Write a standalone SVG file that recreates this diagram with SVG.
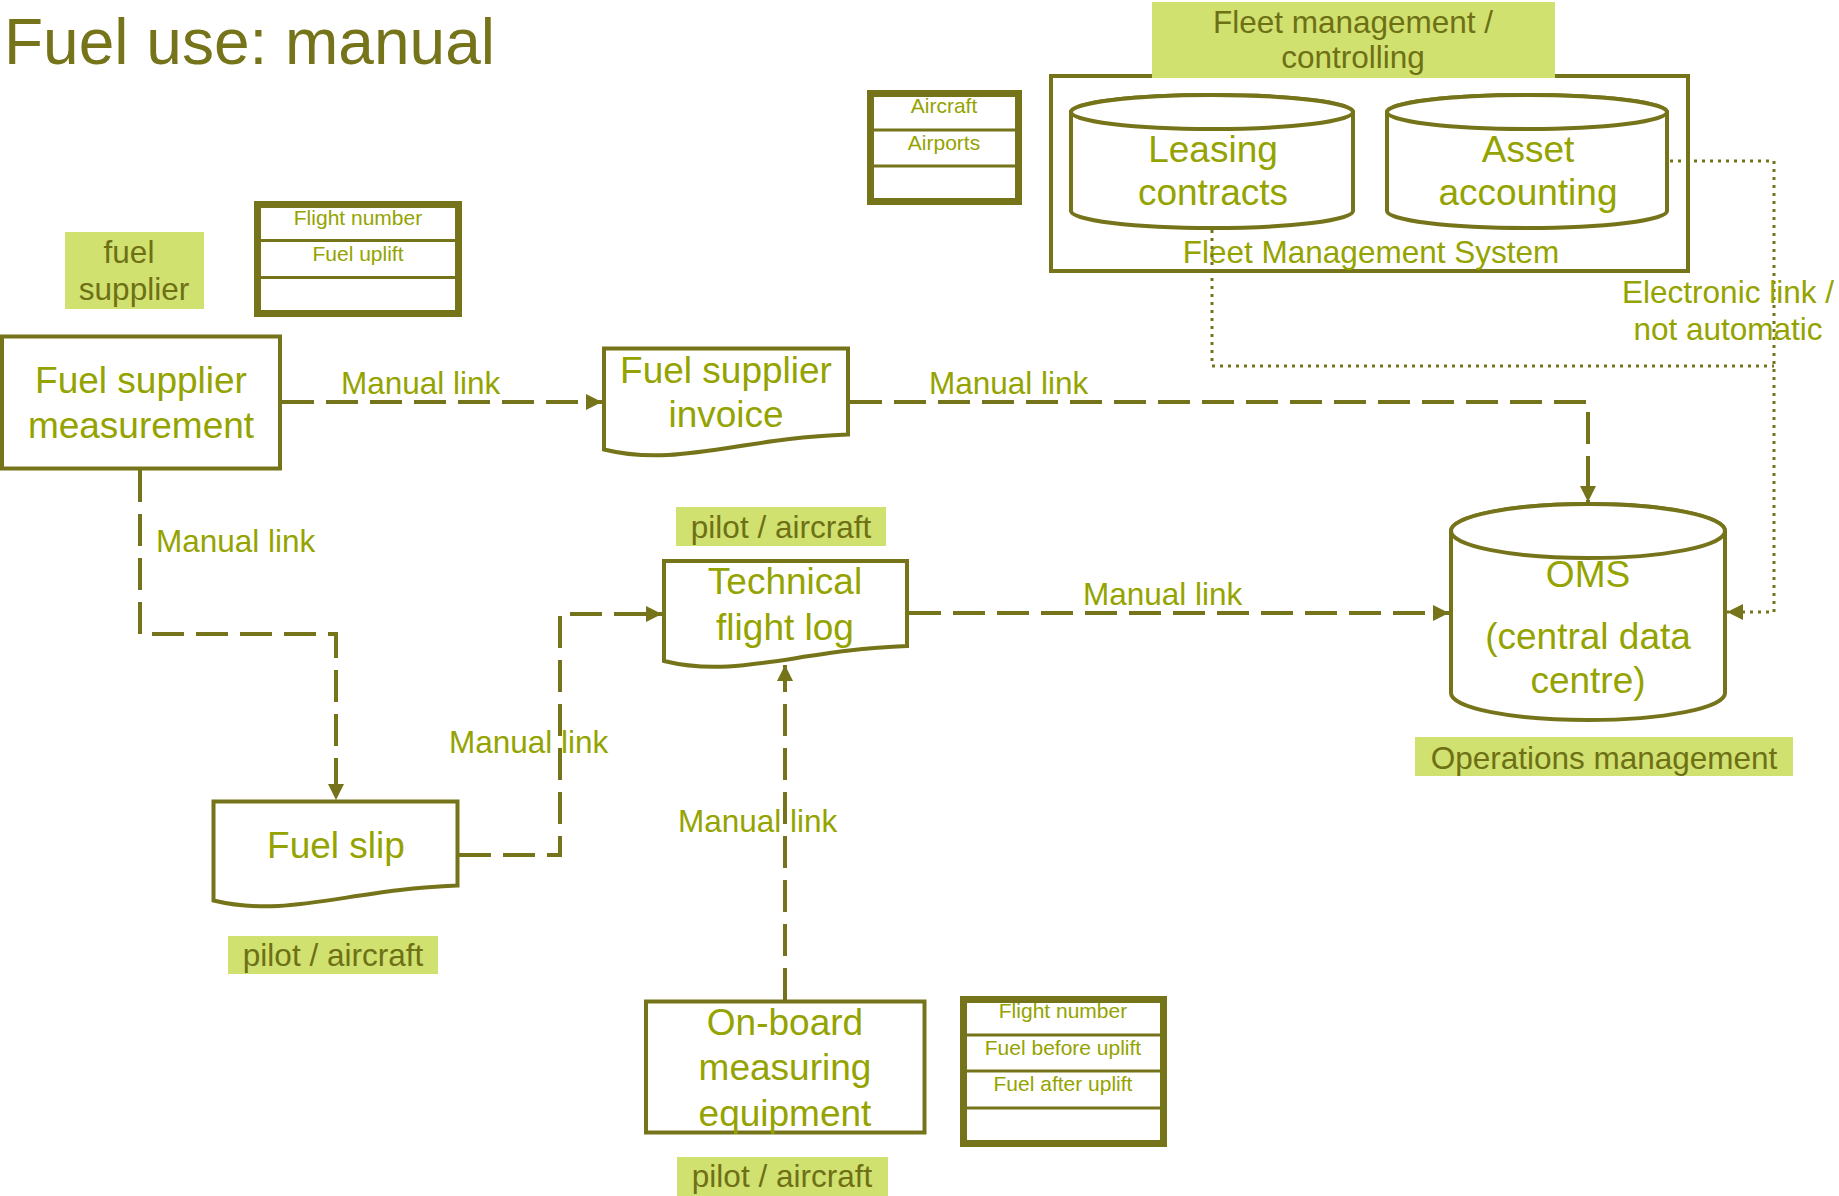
<svg xmlns="http://www.w3.org/2000/svg" width="1839" height="1196" viewBox="0 0 1839 1196">
<style>
text{font-family:"Liberation Sans",Arial,sans-serif}
.node{fill:#fff;stroke:#76741A;stroke-width:4}
.big{font-size:37px;fill:#94A300;text-anchor:middle}
.lbl{fill:#D1E170}
.lt{font-size:31.5px;fill:#6E7015;text-anchor:middle}
.ct{font-size:31.5px;fill:#94A300}
.tbl{fill:#fff;stroke:#76741A;stroke-width:7}
.div{stroke:#76741A;stroke-width:3}
.tt{font-size:21px;fill:#94A300;text-anchor:middle}
.dash{fill:none;stroke:#76741A;stroke-width:4;stroke-dasharray:32 12}
.dot{fill:none;stroke:#76741A;stroke-width:3;stroke-dasharray:3 5}
</style>
<defs>
<marker id="arr" markerUnits="userSpaceOnUse" markerWidth="16" markerHeight="16" refX="16" refY="8" orient="auto"><path d="M0,0 L16,8 L0,16 z" fill="#76741A"/></marker>
</defs>
<rect width="1839" height="1196" fill="#fff"/>
<text x="4" y="64" font-size="64" fill="#76741A">Fuel use: manual</text>

<g id="fuel-supplier-label">
<rect class="lbl" x="65" y="232" width="139" height="77"/>
<text class="lt" x="129" y="263">fuel</text>
<text class="lt" x="134" y="300">supplier</text>
</g>

<g id="table-fuel-supplier">
<rect class="tbl" x="257.5" y="204.5" width="201" height="109"/>
<line class="div" x1="261" y1="240.5" x2="455" y2="240.5"/>
<line class="div" x1="261" y1="277.5" x2="455" y2="277.5"/>
<text class="tt" x="358" y="225">Flight number</text>
<text class="tt" x="358" y="261">Fuel uplift</text>
</g>

<g id="table-aircraft">
<rect class="tbl" x="870.5" y="93.5" width="148" height="108"/>
<line class="div" x1="874" y1="130" x2="1015" y2="130"/>
<line class="div" x1="874" y1="166" x2="1015" y2="166"/>
<text class="tt" x="944" y="113">Aircraft</text>
<text class="tt" x="944" y="150">Airports</text>
</g>

<g id="fleet-management-system">
<rect class="node" x="1051" y="76" width="637" height="195"/>
<text class="ct" x="1371" y="263" text-anchor="middle">Fleet Management System</text>
</g>

<g id="fleet-management-label">
<rect class="lbl" x="1152" y="2" width="403" height="76"/>
<text class="lt" x="1353" y="33">Fleet management /</text>
<text class="lt" x="1353" y="68">controlling</text>
</g>

<g id="leasing-contracts">
<path class="node" d="M1071,112 V211 A141,17 0 0 0 1353,211 V112 A141,17 0 0 0 1071,112 Z"/>
<ellipse class="node" cx="1212" cy="112" rx="141" ry="17"/>
<text class="big" x="1213" y="162">Leasing</text>
<text class="big" x="1213" y="205">contracts</text>
</g>

<g id="asset-accounting">
<path class="node" d="M1387,112 V211 A140,17 0 0 0 1667,211 V112 A140,17 0 0 0 1387,112 Z"/>
<ellipse class="node" cx="1527" cy="112" rx="140" ry="17"/>
<text class="big" x="1528" y="162">Asset</text>
<text class="big" x="1528" y="205">accounting</text>
</g>

<g id="fuel-supplier-measurement">
<rect class="node" x="2" y="336.5" width="278" height="132"/>
<text class="big" x="141" y="393">Fuel supplier</text>
<text class="big" x="141" y="438">measurement</text>
</g>

<g id="fuel-supplier-invoice">
<path class="node" d="M604,348.5 H848 V434.5 C738,438.5 677,467.5 604,449.5 Z"/>
<text class="big" x="726" y="383">Fuel supplier</text>
<text class="big" x="726" y="427">invoice</text>
</g>

<g id="pilot-label-techlog">
<rect class="lbl" x="676" y="507" width="210" height="39"/>
<text class="lt" x="781" y="538">pilot / aircraft</text>
</g>

<g id="technical-flight-log">
<path class="node" d="M664,561 H907 V646 C798,650 737,679 664,661 Z"/>
<text class="big" x="785" y="594">Technical</text>
<text class="big" x="785" y="640">flight log</text>
</g>

<g id="oms">
<path class="node" d="M1451,531 V693 A137,27 0 0 0 1725,693 V531 A137,27 0 0 0 1451,531 Z"/>
<ellipse class="node" cx="1588" cy="531" rx="137" ry="27"/>
<text class="big" x="1588" y="587">OMS</text>
<text class="big" x="1588" y="649">(central data</text>
<text class="big" x="1588" y="693">centre)</text>
</g>

<g id="operations-management-label">
<rect class="lbl" x="1415" y="737" width="378" height="39"/>
<text class="lt" x="1604" y="769">Operations management</text>
</g>

<g id="fuel-slip">
<path class="node" d="M213.5,801.5 H457.5 V885.5 C349,889.5 287,918.5 213.5,900.5 Z"/>
<text class="big" x="336" y="858">Fuel slip</text>
</g>

<g id="pilot-label-fuelslip">
<rect class="lbl" x="228" y="936" width="210" height="38"/>
<text class="lt" x="333" y="966">pilot / aircraft</text>
</g>

<g id="on-board-measuring-equipment">
<rect class="node" x="646" y="1001.5" width="278.5" height="131"/>
<text class="big" x="785" y="1035">On-board</text>
<text class="big" x="785" y="1080">measuring</text>
<text class="big" x="785" y="1126">equipment</text>
</g>

<g id="pilot-label-onboard">
<rect class="lbl" x="677" y="1157" width="211" height="39"/>
<text class="lt" x="782" y="1187">pilot / aircraft</text>
</g>

<g id="table-onboard">
<rect class="tbl" x="963.5" y="999.5" width="200" height="144"/>
<line class="div" x1="967" y1="1035" x2="1160" y2="1035"/>
<line class="div" x1="967" y1="1071" x2="1160" y2="1071"/>
<line class="div" x1="967" y1="1108" x2="1160" y2="1108"/>
<text class="tt" x="1063" y="1018">Flight number</text>
<text class="tt" x="1063" y="1055">Fuel before uplift</text>
<text class="tt" x="1063" y="1091">Fuel after uplift</text>
</g>

<g id="connectors">
<path class="dash" d="M282,402 H602" marker-end="url(#arr)"/>
<path class="dash" d="M850,402 H1588 V502" marker-end="url(#arr)"/>
<path class="dash" d="M140,470 V634 H336 V800" marker-end="url(#arr)"/>
<path class="dash" d="M459,855 H560 V614 H662" marker-end="url(#arr)"/>
<path class="dash" d="M785,1000 V665" marker-end="url(#arr)"/>
<path class="dash" d="M909,613 H1449" marker-end="url(#arr)"/>
<path class="dot" d="M1212,230 V366 H1774"/>
<path class="dot" d="M1670,161 H1774 V612 H1727" marker-end="url(#arr)"/>
<text class="ct" x="341" y="394">Manual link</text>
<text class="ct" x="929" y="394">Manual link</text>
<text class="ct" x="156" y="552">Manual link</text>
<text class="ct" x="449" y="753">Manual link</text>
<text class="ct" x="678" y="832">Manual link</text>
<text class="ct" x="1083" y="605">Manual link</text>
<text class="ct" x="1728" y="303" text-anchor="middle">Electronic link /</text>
<text class="ct" x="1728" y="340" text-anchor="middle">not automatic</text>
</g>
</svg>
